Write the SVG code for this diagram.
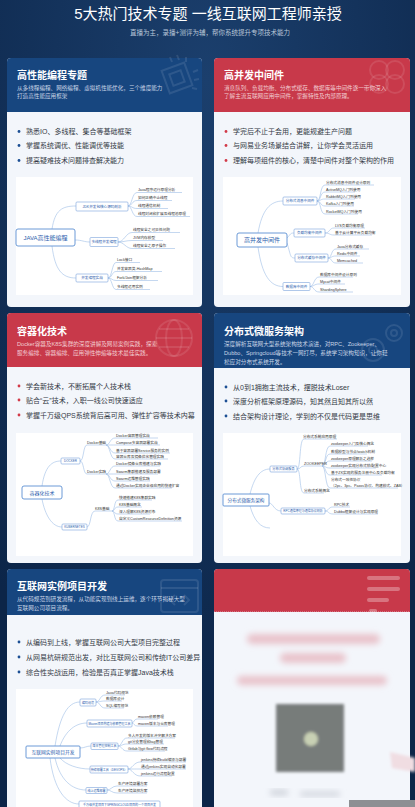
<svg xmlns="http://www.w3.org/2000/svg" width="415" height="807" viewBox="0 0 415 807">
<defs>
<radialGradient id="bgg" cx="50%" cy="10%" r="80%">
<stop offset="0" stop-color="#1b3f6d"/>
<stop offset="1" stop-color="#0c2548"/>
</radialGradient>
<filter id="blur" x="-20%" y="-20%" width="140%" height="140%"><feGaussianBlur stdDeviation="3"/></filter>
<filter id="blur2" x="-20%" y="-20%" width="140%" height="140%"><feGaussianBlur stdDeviation="1.5"/></filter>
</defs>
<style>
text{font-family:"Liberation Sans","Noto Sans CJK SC",sans-serif}
.t1{font-size:15px;fill:#ffffff;text-anchor:middle}
.t2{font-size:6.5px;fill:#b9c6d8;text-anchor:middle}
.body{fill:#f3f6fb}
.hb{fill:#17467f}
.hr{fill:#c8394a}
.ct{font-size:10px;font-weight:bold;fill:#ffffff}
.cd{font-size:5.6px;fill:#c9d5e6}
.cdr{font-size:5.6px;fill:#f2cdd2}
.bl{font-size:7px;fill:#333a45}
.db{fill:#1c4f94}
.dr{fill:#d23a48}
.mm{fill:#ffffff}
.cn{fill:#ffffff;stroke:#5b8ed3;stroke-width:0.9}
.bn{fill:#ffffff;stroke:#7aa3dc;stroke-width:0.6}
.ctx{font-size:6px;fill:#2c60ad;text-anchor:middle}
.btx{font-size:3.6px;fill:#2c60ad;text-anchor:middle}
.it{font-size:3.7px;fill:#333333}
.ln{fill:none;stroke:#9dbde6;stroke-width:0.6}
.ic{fill:none;stroke:#ffffff;stroke-opacity:0.1;stroke-width:2}
</style>
<rect width="415" height="807" fill="url(#bgg)"/>
<g id="title">
<text class="t1" x="208" y="19">5大热门技术专题 一线互联网工程师亲授</text>
<text class="t2" x="210" y="35">直播为主，录播+测评为辅，帮你系统提升专项技术能力</text>
</g>

<!-- Card 1 -->
<g id="card1">
<rect class="body" x="7" y="58" width="195" height="249" rx="4"/>
<path class="hb" d="M7,112 V62 Q7,58 11,58 H198 Q202,58 202,62 V112 Z"/>
<g class="ic"><rect x="165" y="66" width="24" height="24" transform="rotate(-20 177 78)"/><rect x="171" y="72" width="12" height="12" transform="rotate(-20 177 78)"/><path d="M172,62 l-2,-5 M179,60 l-2,-5 M186,62 l0,-5 M193,72 l5,-2 M194,80 l5,-1 M192,88 l5,1"/></g>
<text class="ct" x="17" y="79">高性能编程专题</text>
<text class="cd" x="17" y="90">从多线程编程、网络编程、虚拟机性能优化，三个维度能力</text>
<text class="cd" x="17" y="98">打造高性能应用框架</text>
<circle class="db" cx="19" cy="131.5" r="1.4"/><text class="bl" x="26" y="134">熟悉IO、多线程、集合等基础框架</text>
<circle class="db" cx="19" cy="145.5" r="1.4"/><text class="bl" x="26" y="148">掌握系统调优、性能调优等技能</text>
<circle class="db" cx="19" cy="160.5" r="1.4"/><text class="bl" x="26" y="163">提高疑难技术问题排查解决能力</text>
<rect class="mm" x="16" y="177" width="177" height="118"/>
</g>
<g id="mm1-connectors">
<path class="ln" d="M52,229 C55,210 62,206 76,206"/>
<path class="ln" d="M75,240 C82,240 84,242 90,242"/>
<path class="ln" d="M52,246 C55,270 62,278 76,278"/>
<path class="ln" d="M128,206 C132,206 132,192.5 137,192.5 H182"/>
<path class="ln" d="M128,206 C132,206 132,200.5 137,200.5 H172"/>
<path class="ln" d="M128,206 C132,206 132,208.5 137,208.5 H168"/>
<path class="ln" d="M128,206 C132,206 132,216.5 137,216.5 H190"/>
<path class="ln" d="M118,242 C124,242 126,232.5 132,232.5 H180"/>
<path class="ln" d="M118,242 C124,242 126,240.5 132,240.5 H163"/>
<path class="ln" d="M118,242 C124,242 126,248.5 132,248.5 H175"/>
<path class="ln" d="M108,278 C112,278 112,262.5 116,262.5 H140"/>
<path class="ln" d="M108,278 C112,278 112,271.5 116,271.5 H162"/>
<path class="ln" d="M108,278 C112,278 112,280.5 116,280.5 H158"/>
<path class="ln" d="M108,278 C112,278 112,289.5 116,289.5 H150"/>
</g>
<g id="mm1-nodes">
<rect class="cn" x="16" y="229" width="59" height="17" rx="2"/><text class="ctx" x="45.5" y="240">JAVA高性能编程</text>
<rect class="bn" x="76" y="202" width="52" height="9" rx="1"/><text class="btx" x="102" y="207.8">JDK并发包核心源码剖析</text>
<rect class="bn" x="90" y="237.5" width="28" height="9" rx="1"/><text class="btx" x="104" y="243.3">多线程并发编程</text>
<rect class="bn" x="76" y="274" width="32" height="8" rx="1"/><text class="btx" x="92" y="279.3">并发编程实战</text>
<text class="it" x="138" y="191.3">Java程序运行原理分析</text>
<text class="it" x="138" y="199.3">如何正确中止线程</text>
<text class="it" x="138" y="207.3">线程通信机制</text>
<text class="it" x="138" y="215.3">线程封闭和扩展及线程池原理</text>
<text class="it" x="133" y="231.3">线程安全之可见性问题</text>
<text class="it" x="133" y="239.3">JVM内存模型</text>
<text class="it" x="133" y="247.3">线程安全之原子操作</text>
<text class="it" x="117" y="261.3">Lock接口</text>
<text class="it" x="117" y="270.3">并发容器类-HashMap</text>
<text class="it" x="117" y="279.3">Fork/Join框架分析</text>
<text class="it" x="117" y="288.3">多线程运用实例</text>
</g>

<!-- Card 2 -->
<g id="card2">
<rect class="body" x="214" y="58" width="196" height="249" rx="4"/>
<path class="hr" d="M214,112 V62 Q214,58 218,58 H406 Q410,58 410,62 V112 Z"/>
<g class="ic"><circle cx="379" cy="70" r="9"/><circle cx="395" cy="70" r="9"/><circle cx="379" cy="84" r="9"/><circle cx="395" cy="84" r="9"/></g>
<text class="ct" x="224" y="79">高并发中间件</text>
<text class="cdr" x="224" y="90">消息队列、负载均衡、分布式缓存、数据库等中间件逐一带你深入</text>
<text class="cdr" x="224" y="98">了解主流互联网应用中间件，掌握特性及内部原理。</text>
<circle class="dr" cx="226" cy="131.5" r="1.4"/><text class="bl" x="233" y="134">学完后不止于会用，更能规避生产问题</text>
<circle class="dr" cx="226" cy="145.5" r="1.4"/><text class="bl" x="233" y="148">与网易业务场景结合讲解，让你学会灵活运用</text>
<circle class="dr" cx="226" cy="160.5" r="1.4"/><text class="bl" x="233" y="163">理解每项组件的核心，清楚中间件对整个架构的作用</text>
<rect class="mm" x="223" y="177" width="178" height="118"/>
</g>
<g id="mm2-connectors">
<path class="ln" d="M258,233 C262,210 270,201 283,201"/>
<path class="ln" d="M287,238 C291,234 290,233 294,233"/>
<path class="ln" d="M287,243 C291,256 290,258 295,258"/>
<path class="ln" d="M258,247 C262,275 270,286.5 283,286.5"/>
<path class="ln" d="M317,201 C321,201 320,185 325,185 H374"/>
<path class="ln" d="M317,201 C321,201 320,192 325,192 H355"/>
<path class="ln" d="M317,201 C321,201 320,199 325,199 H355"/>
<path class="ln" d="M317,201 C321,201 320,206 325,206 H354"/>
<path class="ln" d="M317,201 C321,201 320,214 325,214 H358"/>
<path class="ln" d="M325,233 C330,233 329,228 334,228 H365"/>
<path class="ln" d="M325,233 C330,233 329,235 334,235 H372"/>
<path class="ln" d="M328,258 C332,258 331,249 336,249 H369"/>
<path class="ln" d="M328,258 C332,258 331,256 336,256 H360"/>
<path class="ln" d="M328,258 C332,258 331,263 336,263 H363"/>
<path class="ln" d="M310,286.5 C314,286.5 314,277 319,277 H353"/>
<path class="ln" d="M310,286.5 C314,286.5 314,284 319,284 H345"/>
<path class="ln" d="M310,286.5 C314,286.5 314,292 319,292 H353"/>
</g>
<g id="mm2-nodes">
<rect class="cn" x="237" y="233" width="50" height="14" rx="2"/><text class="ctx" x="262" y="242.3">高并发中间件</text>
<rect class="bn" x="283" y="197" width="34" height="8" rx="1"/><text class="btx" x="300" y="202.3">分布式消息中间件</text>
<rect class="bn" x="294" y="229" width="31" height="8" rx="1"/><text class="btx" x="309.5" y="234.3">负载均衡中间件</text>
<rect class="bn" x="295" y="254" width="33" height="8" rx="1"/><text class="btx" x="311.5" y="259.3">分布式缓存中间件</text>
<rect class="bn" x="283" y="282.5" width="27" height="8" rx="1"/><text class="btx" x="296.5" y="287.8">数据库中间件</text>
<text class="it" x="326" y="183.6">分布式消息中间件设计原则</text>
<text class="it" x="326" y="190.6">ActiveMQ入门到使用</text>
<text class="it" x="326" y="197.6">RabbitMQ入门到使用</text>
<text class="it" x="326" y="204.6">Kafka入门到使用</text>
<text class="it" x="326" y="212.6">RocketMQ入门到使用</text>
<text class="it" x="335" y="226.6">LVS负载均衡原理</text>
<text class="it" x="335" y="233.6">基于云计算平台负载均衡</text>
<text class="it" x="337" y="247.6">Java分布式缓存</text>
<text class="it" x="337" y="254.6">Redis中间件</text>
<text class="it" x="337" y="261.6">Memcached</text>
<text class="it" x="320" y="275.6">数据库中间件设计原则</text>
<text class="it" x="320" y="282.6">Mycat中间件</text>
<text class="it" x="320" y="290.6">ShardingSphere</text>
</g>

<!-- Card 3 -->
<g id="card3">
<rect class="body" x="7" y="313" width="195" height="250" rx="4"/>
<path class="hr" d="M7,367 V317 Q7,313 11,313 H198 Q202,313 202,317 V367 Z"/>
<g class="ic"><circle cx="174" cy="338" r="18"/><ellipse cx="174" cy="338" rx="8" ry="18"/><path d="M156,338 H192 M159,329 H189 M159,347 H189"/></g>
<text class="ct" x="17" y="335">容器化技术</text>
<text class="cdr" x="17" y="346">Docker容器及K8S集群的深度讲解及网易案例实践，探索</text>
<text class="cdr" x="17" y="355">服务编排、容器编排、应用弹性伸缩等技术最佳实践。</text>
<circle class="dr" cx="19" cy="386" r="1.4"/><text class="bl" x="26" y="388.5">学会新技术，不断拓展个人技术栈</text>
<circle class="dr" cx="19" cy="400" r="1.4"/><text class="bl" x="26" y="402.5">贴合“云”技术，入职一线公司快速适应</text>
<circle class="dr" cx="19" cy="415" r="1.4"/><text class="bl" x="26" y="417.5">掌握千万级QPS系统背后高可用、弹性扩容等技术内幕</text>
<rect class="mm" x="16" y="433" width="177" height="123"/>
</g>
<g id="mm3-connectors">
<path class="ln" d="M42,486 C45,466 52,461 61,461"/>
<path class="ln" d="M42,499 C45,515 52,527 62,527"/>
<path class="ln" d="M80,461 C84,461 83,445 87,445 H106"/>
<path class="ln" d="M80,461 C84,461 83,474 87,474 H106"/>
<path class="ln" d="M106,445 C110,445 110,438 115,438 H158"/>
<path class="ln" d="M106,445 C110,445 110,445 115,445 H160"/>
<path class="ln" d="M106,445 C110,445 110,453 115,453 H170"/>
<path class="ln" d="M106,445 C110,445 110,459 115,459 H168"/>
<path class="ln" d="M106,474 C110,474 110,466 115,466 H160"/>
<path class="ln" d="M106,474 C110,474 110,474 115,474 H158"/>
<path class="ln" d="M106,474 C110,474 110,481 115,481 H150"/>
<path class="ln" d="M106,474 C110,474 110,488 115,488 H172"/>
<path class="ln" d="M87,527 C91,527 90,511 95,511 H112"/>
<path class="ln" d="M112,511 C115,511 114,500 118,500 H152"/>
<path class="ln" d="M112,511 C115,511 114,507 118,507 H142"/>
<path class="ln" d="M112,511 C115,511 114,514 118,514 H150"/>
<path class="ln" d="M112,511 C115,511 114,521 118,521 H182"/>
</g>
<g id="mm3-nodes">
<rect class="cn" x="22" y="486" width="40" height="13" rx="2"/><text class="ctx" x="42" y="494.8" style="font-size:5px">容器化技术</text>
<rect class="bn" x="61" y="458" width="19" height="6" rx="1"/><text class="btx" x="70.5" y="462.2" style="font-size:3px">DOCKER</text>
<rect class="bn" x="62" y="524" width="25" height="6" rx="1"/><text class="btx" x="74.5" y="528.2" style="font-size:3px">KUBERNETES</text>
<text class="it" x="87" y="444">Docker基础</text>
<text class="it" x="87" y="473">Docker实践</text>
<text class="it" x="95" y="510">K8S基础</text>
<text class="it" x="116" y="437">Docker容器管理实战</text>
<text class="it" x="116" y="444">Compose多容器部署实战</text>
<text class="it" x="116" y="452">基于容器部署Service服务的实例</text>
<text class="it" x="116" y="458">容器仓库及镜像优化管理实践</text>
<text class="it" x="116" y="465">Docker镜像仓库搭建与实践</text>
<text class="it" x="116" y="473">Swarm集群搭建及服务部署</text>
<text class="it" x="116" y="480">Swarm运维管理实践</text>
<text class="it" x="116" y="487">通过Docker实现企业级应用的快速扩容</text>
<text class="it" x="119" y="499">快速搭建K8S集群实践</text>
<text class="it" x="119" y="506">K8S基础概念</text>
<text class="it" x="119" y="513">深入理解K8S资源对象</text>
<text class="it" x="119" y="520">自定义CustomResourceDefinition资源</text>
</g>

<!-- Card 4 -->
<g id="card4">
<rect class="body" x="214" y="313" width="196" height="250" rx="4"/>
<path class="hb" d="M214,368 V317 Q214,313 218,313 H406 Q410,313 410,317 V368 Z"/>
<g class="ic"><circle cx="394" cy="333" r="8"/><circle cx="394" cy="333" r="3"/><circle cx="373" cy="350" r="11"/><circle cx="373" cy="350" r="4"/></g>
<text class="ct" x="224" y="335">分布式微服务架构</text>
<text class="cd" x="224" y="346">深度解析互联网大型系统架构技术演进，对RPC、Zookeeper、</text>
<text class="cd" x="224" y="355">Dubbo、Springcloud等技术一网打尽，系统学习架构知识，让你轻</text>
<text class="cd" x="224" y="364">松应对分布式系统开发。</text>
<circle class="db" cx="226" cy="387" r="1.4"/><text class="bl" x="233" y="389.5">从0到1拥抱主流技术，摆脱技术Loser</text>
<circle class="db" cx="226" cy="401" r="1.4"/><text class="bl" x="233" y="403.5">深度分析框架原理源码，知其然且知其所以然</text>
<circle class="db" cx="226" cy="416" r="1.4"/><text class="bl" x="233" y="418.5">结合架构设计理论，学到的不仅是代码更是思维</text>
<rect class="mm" x="223" y="433" width="178" height="123"/>
</g>
<g id="mm4-connectors">
<path class="ln" d="M250,494 C254,478 260,469 270,469"/>
<path class="ln" d="M269,503 C273,503 274,511 281,511"/>
<path class="ln" d="M250,506 C254,520 260,528 270,528"/>
<path class="ln" d="M297,469 C301,469 299,439 304,439 H337"/>
<path class="ln" d="M297,469 C301,469 300,466 304,466 H322"/>
<path class="ln" d="M297,469 C301,469 299,493 304,493 H324"/>
<path class="ln" d="M322,466 C326,466 325,446 330,446 H368"/>
<path class="ln" d="M322,466 C326,466 325,454 330,454 H367"/>
<path class="ln" d="M322,466 C326,466 325,461 330,461 H372"/>
<path class="ln" d="M322,466 C326,466 325,468 330,468 H376"/>
<path class="ln" d="M322,466 C326,466 325,475 330,475 H382"/>
<path class="ln" d="M322,466 C326,466 325,488 330,488 H398"/>
<path class="ln" d="M325,511 C329,511 328,507 333,507 H350"/>
<path class="ln" d="M325,511 C329,511 328,514 333,514 H378"/>
</g>
<g id="mm4-nodes">
<rect class="cn" x="223" y="494" width="46" height="12" rx="1"/><text class="ctx" x="246" y="502" style="font-size:4.6px">分布式微服务架构</text>
<rect class="bn" x="270" y="466" width="27" height="6" rx="1"/><text class="btx" x="283.5" y="470.2" style="font-size:3.2px">分布式协调服务</text>
<rect class="bn" x="281" y="508" width="44" height="6" rx="1"/><text class="btx" x="303" y="512.2" style="font-size:3px">RPC通信原理与通信协议剖析</text>
<text class="it" x="303" y="438">分布式系统应用原理</text>
<text class="it" x="304" y="465">ZOOKEEPER</text>
<text class="it" x="304" y="492">分布式系统概念</text>
<text class="it" x="331" y="445">zookeeper入门及核心概念</text>
<text class="it" x="331" y="453">数据模型与节点/watch机制</text>
<text class="it" x="331" y="460">zookeeper原理解析之选举</text>
<text class="it" x="331" y="467">zookeeper实现分布式锁/配置中心</text>
<text class="it" x="331" y="474">基于ZK实现的服务注册中心及负载均衡</text>
<text class="it" x="331" y="481">分布式一致性协议</text>
<text class="it" x="331" y="487">（2pc、3pc、Paxos协议、构建模式、ZAB）</text>
<text class="it" x="334" y="506">RPC技术</text>
<text class="it" x="334" y="513">Dubbo框架设计与实现原理</text>
</g>

<!-- Card 5 -->
<g id="card5">
<rect class="body" x="7" y="569" width="195" height="250" rx="4"/>
<path class="hb" d="M7,615 V573 Q7,569 11,569 H198 Q202,569 202,573 V615 Z"/>
<g class="ic"><rect x="161" y="580" width="37" height="32" rx="3"/><path d="M161,588 H198 M175,595 l-5,5 l5,5 M184,595 l5,5 l-5,5"/></g>
<text class="ct" x="17" y="590">互联网实例项目开发</text>
<text class="cd" x="17" y="601">从代码规范到研发流程，从功能实现到线上运维，逐个环节揭秘大型</text>
<text class="cd" x="17" y="610">互联网公司项目流程。</text>
<circle class="db" cx="19" cy="642" r="1.4"/><text class="bl" x="26" y="644.5">从编码到上线，掌握互联网公司大型项目完整过程</text>
<circle class="db" cx="19" cy="657" r="1.4"/><text class="bl" x="26" y="659.5">从网易杭研规范出发，对比互联网公司和传统IT公司差异</text>
<circle class="db" cx="19" cy="672" r="1.4"/><text class="bl" x="26" y="674.5">综合性实战运用，检验是否真正掌握Java技术栈</text>
<rect class="mm" x="16" y="689" width="177" height="118"/>
</g>
<g id="mm5-connectors">
<path class="ln" d="M55,746 C60,715 68,702 80,702"/>
<path class="ln" d="M60,746 C66,730 76,723 87,723"/>
<path class="ln" d="M80,748 C85,748 86,746 91,746"/>
<path class="ln" d="M60,758 C66,765 78,769 90,769"/>
<path class="ln" d="M55,758 C60,780 72,790 86,790"/>
<path class="ln" d="M50,758 C54,790 66,804 79,804"/>
<path class="ln" d="M96,702 C100,702 100,695 105,695 H125"/>
<path class="ln" d="M96,702 C100,702 100,701 105,701 H122"/>
<path class="ln" d="M96,702 C100,702 100,708 105,708 H124"/>
<path class="ln" d="M132,723 C134,723 134,719 137,719 H158"/>
<path class="ln" d="M132,723 C134,723 134,726 137,726 H168"/>
<path class="ln" d="M118,746 C122,746 122,738 127,738 H175"/>
<path class="ln" d="M118,746 C122,746 122,744 127,744 H164"/>
<path class="ln" d="M118,746 C122,746 122,751 127,751 H165"/>
<path class="ln" d="M128,769 C132,769 134,762 140,762 H186"/>
<path class="ln" d="M128,769 C132,769 134,769 140,769 H186"/>
<path class="ln" d="M128,769 C132,769 134,776 140,776 H172"/>
<path class="ln" d="M107,790 C111,790 112,786 117,786 H147"/>
<path class="ln" d="M107,790 C111,790 112,793 117,793 H147"/>
</g>
<g id="mm5-nodes">
<rect class="cn" x="26" y="746" width="54" height="12" rx="1"/><text class="ctx" x="53" y="754" style="font-size:4.8px">互联网实例项目开发</text>
<rect class="bn" x="80" y="699" width="16" height="7" rx="1"/><text class="btx" x="88" y="703.6" style="font-size:3px">编码规范</text>
<rect class="bn" x="87" y="720" width="45" height="7" rx="1"/><text class="btx" x="109.5" y="724.6" style="font-size:3px">Maven项目构建与依赖管理工具</text>
<rect class="bn" x="91" y="743" width="27" height="6.5" rx="1"/><text class="btx" x="104.5" y="747.4" style="font-size:3px">版本管理控制工具</text>
<rect class="bn" x="90" y="766" width="38" height="7" rx="1"/><text class="btx" x="109" y="770.6" style="font-size:3px">持续部署工具（DEVOPS）</text>
<rect class="bn" x="86" y="787.5" width="21" height="6" rx="1"/><text class="btx" x="96.5" y="791.7" style="font-size:3px">线上运维部署</text>
<rect class="bn" x="79" y="801" width="81" height="7" rx="1"/><text class="btx" x="119.5" y="805.6" style="font-size:3px">千万级并发项目下SPRINGCLOUD项目的一个项目开发</text>
<text class="it" x="106" y="694">Java代码规范</text>
<text class="it" x="106" y="700">数据库设计</text>
<text class="it" x="106" y="707">SQL编写规范</text>
<text class="it" x="138" y="718">maven依赖管理</text>
<text class="it" x="138" y="725">maven版本与仓库管理</text>
<text class="it" x="128" y="737">多人开发的版本冲突解决方案</text>
<text class="it" x="128" y="743">git分支管理和tag管理</text>
<text class="it" x="128" y="750">Gitlab与git flow代码流程</text>
<text class="it" x="141" y="761">jenkins持续build编译与部署</text>
<text class="it" x="141" y="768">通过jenkins实现自动化部署</text>
<text class="it" x="141" y="775">jenkins运行流程配置</text>
<text class="it" x="118" y="785">生产环境部署方案</text>
<text class="it" x="118" y="792">生产环境监控方案</text>
</g>

<!-- Card 6 (blurred) -->
<g id="card6">
<rect class="body" x="214" y="569" width="196" height="250" rx="4"/>
<path class="hr" d="M214,612 V573 Q214,569 218,569 H406 Q410,569 410,573 V612 Z"/>
<line x1="214" y1="612" x2="410" y2="612" stroke="#f3f6fb" stroke-width="0.6" stroke-dasharray="1,1"/>
<g fill="#ffffff" fill-opacity="0.3">
<rect x="367" y="576" width="33" height="4" rx="2"/>
<rect x="367" y="587" width="33" height="4" rx="2"/>
<rect x="367" y="598" width="22" height="4" rx="2"/>
<rect x="369" y="609" width="8" height="3" rx="1.5"/>
</g>
<g filter="url(#blur)" fill="#e9c2ca">
<rect x="247" y="634" width="133" height="10" rx="5"/>
<rect x="280" y="653" width="66" height="10" rx="5"/>
<rect x="237" y="676" width="150" height="9" rx="4.5"/>
</g>
<g filter="url(#blur2)">
<rect x="276" y="704" width="68" height="68" fill="#777b7a"/>
<circle cx="311" cy="739" r="7" fill="#c8d0b4"/>
</g>
<g filter="url(#blur)" fill="#c9cdd6">
<rect x="270" y="790" width="18" height="5" rx="2"/>
<rect x="300" y="792" width="40" height="4" rx="2"/>
</g>
<path d="M390,752 L415,758 L415,772 L392,768 Z" fill="#f0dde2" filter="url(#blur2)"/>
<rect x="349" y="800" width="66" height="7" fill="#8d8f93"/>
</g>
</svg>
